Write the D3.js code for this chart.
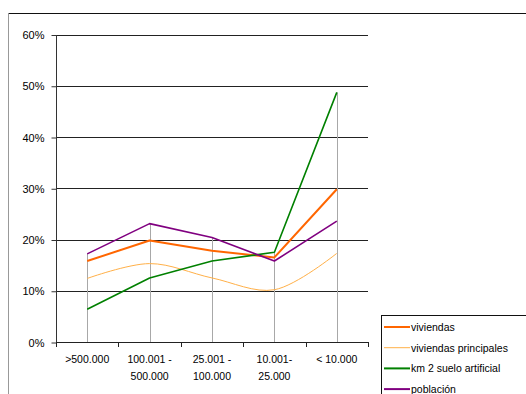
<!DOCTYPE html>
<html>
<head>
<meta charset="utf-8">
<script src="https://cdn.jsdelivr.net/npm/d3@7"></script>
<style>
  html, body { margin: 0; padding: 0; background: #fff; }
  svg { display: block; }
  text { font-family: "Liberation Sans", Arial, sans-serif; fill: #000; }
</style>
</head>
<body>
<svg id="chart" width="526" height="394"></svg>
<script>
// Population-size groups (municipios) and the share of each indicator
const categories = [[">500.000"], ["100.001 -", "500.000"], ["25.001 -", "100.000"], ["10.001-", "25.000"], ["< 10.000"]];
const viviendas = [15.8, 19.8, 17.8, 16.5, 29.8];
const viviendasPrincipales = [12.4, 15.3, 12.5, 10.2, 17.3];
const km2SueloArtificial = [6.4, 12.5, 15.8, 17.5, 48.7];
const poblacion = [17.2, 23.1, 20.4, 15.8, 23.6];
const yTicks = [0, 10, 20, 30, 40, 50, 60];

const series = [
  { name: "viviendas", values: viviendas, color: "#ff6600", width: 2, smooth: false },
  { name: "viviendas principales", values: viviendasPrincipales, color: "#ffb048", width: 1, smooth: true },
  { name: "km 2 suelo artificial", values: km2SueloArtificial, color: "#008000", width: 1.6, smooth: false },
  { name: "población", values: poblacion, color: "#800080", width: 1.6, smooth: false }
];

const svg = d3.select("#chart");
const plot = { left: 56, right: 368, top: 34.5, bottom: 342 };

// outer chart frame
svg.append("line").attr("x1", 8.5).attr("x2", 526).attr("y1", 13.5).attr("y2", 13.5)
  .attr("stroke", "#111").attr("stroke-width", 1.2);
svg.append("line").attr("x1", 8.5).attr("x2", 8.5).attr("y1", 13.5).attr("y2", 394)
  .attr("stroke", "#999").attr("stroke-width", 1);

const x = d3.scaleBand().domain(d3.range(categories.length)).range([plot.left, plot.right]);
const y = d3.scaleLinear().domain([0, 60]).range([plot.bottom, plot.top]);
const cx = i => x(i) + x.bandwidth() / 2;

// horizontal gridlines
svg.append("g").selectAll("line").data(yTicks.filter(t => t > 0)).join("line")
  .attr("x1", plot.left).attr("x2", plot.right)
  .attr("y1", d => Math.round(y(d)) + 0.5).attr("y2", d => Math.round(y(d)) + 0.5)
  .attr("stroke", "#222").attr("stroke-width", 1);

// drop lines from the highest value down to the category axis
svg.append("g").selectAll("line").data(categories.map((c, i) => i)).join("line")
  .attr("x1", i => Math.round(cx(i)) + 0.5).attr("x2", i => Math.round(cx(i)) + 0.5)
  .attr("y1", i => y(d3.max(series, s => s.values[i])))
  .attr("y2", plot.bottom)
  .attr("stroke", "#a8a8a8").attr("stroke-width", 1);

// y axis
const yAxis = d3.axisLeft(y).tickValues(yTicks).tickFormat(d => d + "%").tickSize(5).tickPadding(7);
const gy = svg.append("g").attr("transform", `translate(${plot.left + 0.5},0.5)`).call(yAxis);
gy.select(".domain").attr("stroke", "#333").attr("d", `M0,${plot.top}V${plot.bottom}`);
gy.selectAll(".tick line").attr("stroke", "#333");
gy.selectAll(".tick text").attr("font-size", 11).attr("font-family", "Liberation Sans, Arial, sans-serif").attr("fill", "#000");

// x axis: ticks on band boundaries
const bounds = d3.range(categories.length + 1).map(i => plot.left + i * x.bandwidth());
const gx = svg.append("g");
gx.append("line").attr("x1", plot.left).attr("x2", plot.right)
  .attr("y1", plot.bottom + 0.5).attr("y2", plot.bottom + 0.5).attr("stroke", "#222");
gx.selectAll("line.tk").data(bounds).join("line").attr("class", "tk")
  .attr("x1", d => Math.round(d) + 0.5).attr("x2", d => Math.round(d) + 0.5)
  .attr("y1", plot.bottom).attr("y2", plot.bottom + 5).attr("stroke", "#222");
const labels = gx.selectAll("text").data(categories).join("text")
  .attr("text-anchor", "middle").attr("font-size", 10.5)
  .attr("transform", (d, i) => `translate(${cx(i)},${plot.bottom + 21})`);
labels.selectAll("tspan").data(d => d).join("tspan")
  .attr("x", 0).attr("dy", (d, j) => j === 0 ? 0 : 16.5).text(d => d);

// series lines
const g = svg.append("g");
series.forEach(s => {
  const line = d3.line().x((d, i) => cx(i)).y(d => y(d))
    .curve(s.smooth ? d3.curveCatmullRom.alpha(0.5) : d3.curveLinear);
  g.append("path").datum(s.values).attr("d", line)
    .attr("fill", "none").attr("stroke", s.color).attr("stroke-width", s.width)
    .attr("stroke-linejoin", "round");
});

// legend
const leg = svg.append("g");
leg.append("rect").attr("x", 381.5).attr("y", 315.5).attr("width", 160).attr("height", 90)
  .attr("fill", "#fff").attr("stroke", "#111").attr("stroke-width", 1);
series.forEach((s, i) => {
  const ly = 327 + i * 20.7;
  leg.append("line").attr("x1", 384).attr("x2", 410).attr("y1", ly).attr("y2", ly)
    .attr("stroke", s.color).attr("stroke-width", s.width === 1 ? 1 : 2);
  leg.append("text").attr("x", 411).attr("y", ly + 4).attr("font-size", 10.5).text(s.name);
});
</script>
</body>
</html>
